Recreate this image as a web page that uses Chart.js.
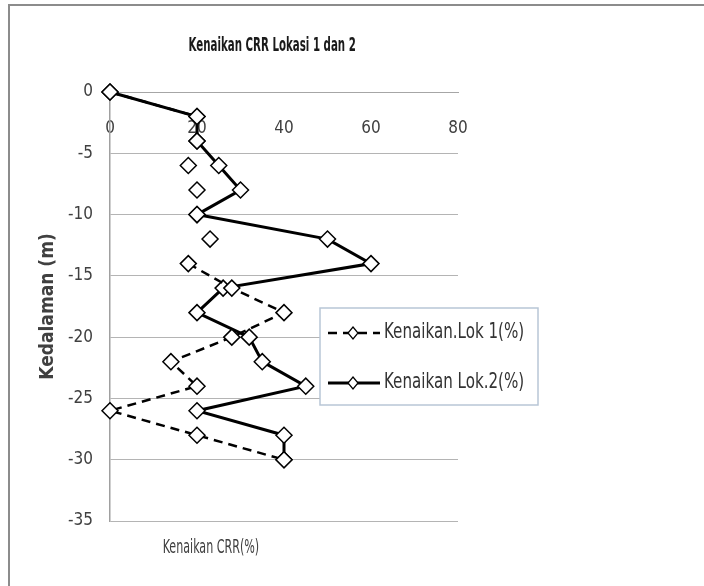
<!DOCTYPE html>
<html>
<head>
<meta charset="utf-8">
<script src="https://cdn.jsdelivr.net/npm/chart.js@4.4.1/dist/chart.umd.min.js"></script>
<style>
  html, body { margin: 0; padding: 0; background: #fff; }
  #wrap { position: relative; width: 704px; height: 586px; }
</style>
</head>
<body>
<div id="wrap"><canvas id="grafico" width="704" height="586"></canvas></div>
<script>
// Data
const kedalaman = [0, -2, -4, -6, -8, -10, -12, -14, -16, -18, -20, -22, -24, -26, -28, -30];
const kenaikanLok1 = [0, 20, 20, 18, 20, 20, 23, 18, 28, 40, 28, 14, 20, 0, 20, 40];
const kenaikanLok2 = [0, 20, 20, 25, 30, 20, 50, 60, 26, 20, 32, 35, 45, 20, 40, 40];
const labelSeri = ['Kenaikan.Lok 1(%)', 'Kenaikan Lok.2(%)'];
const judul = 'Kenaikan CRR Lokasi 1 dan 2';
const judulX = 'Kenaikan CRR(%)';
const judulY = 'Kedalaman (m)';

const FONTE = "'Liberation Sans Narrow', 'DejaVu Sans Condensed', 'Noto Sans', sans-serif";

function montarPontos(xs, ys) {
    return xs.map((v, i) => ({ x: v, y: ys[i] }));
}

// segmentos do Lok 1 que não aparecem na figura (-4 a -14 m)
function segmentoOculto(ctx) {
    return (ctx.p0DataIndex >= 2 && ctx.p0DataIndex <= 6) ? 'transparent' : undefined;
}

// texto estreito (a figura original tem fonte condensada)
function textoEstreito(c, texto, x, y, fator) {
    c.save();
    c.translate(x, y);
    c.scale(fator, 1);
    c.fillText(texto, 0, 0);
    c.restore();
}

const textosExtras = {
    id: 'textosExtras',
    beforeDraw(chart) {
        const c = chart.ctx;
        c.save();
        c.strokeStyle = '#8c8c8c';
        c.lineWidth = 2;
        c.beginPath();
        c.moveTo(9, 586);
        c.lineTo(9, 5);
        c.lineTo(704, 5);
        c.stroke();
        c.restore();
    },
    afterDraw(chart) {
        const c = chart.ctx;
        const a = chart.chartArea;
        c.save();
        // judul
        c.fillStyle = '#1a1a1a';
        c.font = 'bold 19px ' + FONTE;
        c.textAlign = 'center';
        c.textBaseline = 'middle';
        textoEstreito(c, judul, a.left + (a.right - a.left) * 0.466, 46, 0.6);
        // judul sumbu x
        c.fillStyle = '#404040';
        c.font = '19px ' + FONTE;
        textoEstreito(c, judulX, a.left + (a.right - a.left) * 0.29, a.bottom + 27, 0.65);

        // legenda
        const lx = 320, ly = 308, lw = 218, lh = 97;
        c.fillStyle = '#ffffff';
        c.fillRect(lx, ly, lw, lh);
        c.strokeStyle = '#b8c6d6';
        c.lineWidth = 1.5;
        c.strokeRect(lx, ly, lw, lh);
        chart.data.datasets.forEach((ds, i) => {
            const y = ly + 25 + i * 50;
            c.strokeStyle = '#000';
            c.lineWidth = ds.borderWidth;
            c.setLineDash(ds.borderDash || []);
            c.beginPath();
            c.moveTo(lx + 8, y);
            c.lineTo(lx + 60, y);
            c.stroke();
            c.setLineDash([]);
            c.lineWidth = 1.2;
            c.fillStyle = '#fff';
            c.beginPath();
            c.moveTo(lx + 33, y - 6);
            c.lineTo(lx + 38, y);
            c.lineTo(lx + 33, y + 6);
            c.lineTo(lx + 28, y);
            c.closePath();
            c.fill();
            c.stroke();
            c.fillStyle = '#333';
            c.font = '21px ' + FONTE;
            c.textAlign = 'left';
            textoEstreito(c, ds.label, lx + 64, y, 0.8);
        });
        c.restore();
    }
};

new Chart(document.getElementById('grafico'), {
    type: 'scatter',
    data: {
        datasets: [
            {
                label: labelSeri[0],
                data: montarPontos(kenaikanLok1, kedalaman),
                showLine: true,
                borderColor: '#000',
                borderWidth: 2.5,
                borderDash: [9, 6],
                segment: { borderColor: segmentoOculto },
                pointStyle: 'rectRot',
                pointRadius: 8,
                pointBorderWidth: 1.5,
                pointBackgroundColor: '#fff',
                pointBorderColor: '#000',
                clip: false
            },
            {
                label: labelSeri[1],
                data: montarPontos(kenaikanLok2, kedalaman),
                showLine: true,
                borderColor: '#000',
                borderWidth: 3,
                pointStyle: 'rectRot',
                pointRadius: 8,
                pointBorderWidth: 1.5,
                pointBackgroundColor: '#fff',
                pointBorderColor: '#000',
                clip: false
            }
        ]
    },
    options: {
        responsive: false,
        animation: false,
        layout: { padding: { left: 10, right: 246, top: 92, bottom: 65 } },
        plugins: {
            legend: { display: false },
            title: { display: false },
            tooltip: { enabled: false }
        },
        scales: {
            x: {
                type: 'linear',
                position: { y: 0 },
                min: 0,
                max: 80,
                ticks: { stepSize: 20, padding: 26, color: '#404040', font: { family: FONTE, size: 17 } },
                grid: { display: false, drawTicks: false },
                border: { display: true, color: '#a6a6a6', width: 1 }
            },
            y: {
                type: 'linear',
                min: -35,
                max: 0,
                ticks: { stepSize: 5, padding: 17, color: '#404040', font: { family: FONTE, size: 17 } },
                grid: { color: '#b4b4b4', lineWidth: 1, drawTicks: false },
                border: { display: true, color: '#a0a0a0', width: 1.5 },
                title: {
                    display: true,
                    text: judulY,
                    color: '#404040',
                    font: { family: FONTE, size: 19, weight: 'bold' },
                    padding: { top: 27, bottom: 0 }
                },
                afterFit(scale) { scale.width = 100; }
            }
        }
    },
    plugins: [textosExtras]
});
</script>
</body>
</html>
